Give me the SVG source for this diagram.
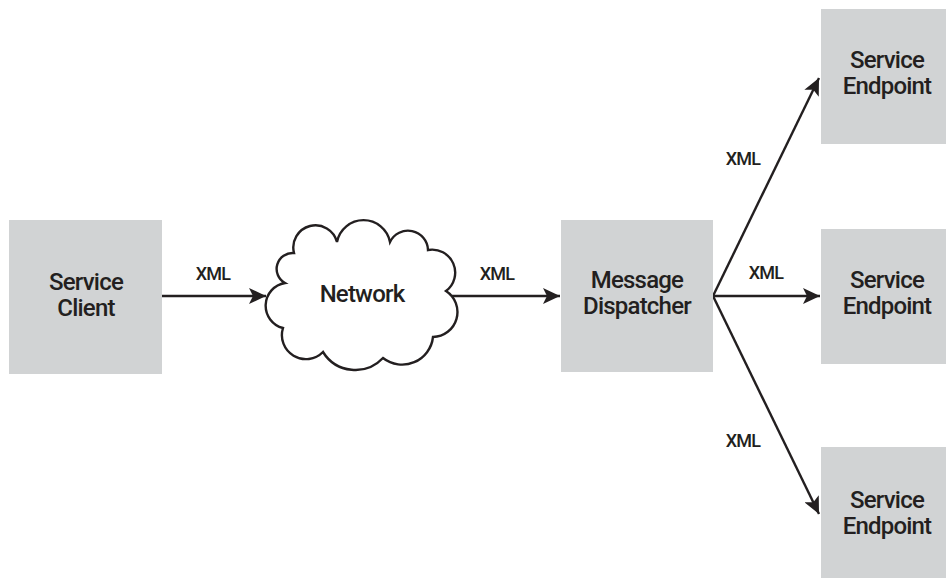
<svg xmlns="http://www.w3.org/2000/svg" width="946" height="578" viewBox="0 0 946 578">
<style>
.box{fill:#d1d3d4;stroke:none}
.lbl{font-family:Roboto,"Liberation Sans",sans-serif;font-weight:500;font-size:24px;fill:#231f20;text-anchor:middle;letter-spacing:-0.8px}
.xml{font-family:Roboto,"Liberation Sans",sans-serif;font-weight:500;font-size:18px;fill:#231f20;text-anchor:middle;letter-spacing:-0.8px}
.conn{stroke:#231f20;stroke-width:2.4;fill:none;marker-end:url(#ah)}
.cloud{fill:#fff;stroke:#231f20;stroke-width:2.4;stroke-linejoin:miter}
</style>
<defs>
<marker id="ah" markerWidth="18" markerHeight="16" refX="17" refY="8" orient="auto" markerUnits="userSpaceOnUse">
<path d="M0,0 L17,8 L0,16 L4,8 Z" fill="#231f20"/>
</marker>
</defs>
<rect width="946" height="578" fill="#fff"/>
<g id="connectors">
<line class="conn" x1="162" y1="296" x2="266" y2="296"/>
<line class="conn" x1="452" y1="296" x2="560" y2="296"/>
<line class="conn" x1="713" y1="296" x2="819" y2="78"/>
<line class="conn" x1="713" y1="296" x2="820" y2="296"/>
<line class="conn" x1="713" y1="296" x2="819" y2="514"/>
<text class="xml" x="213" y="280">XML</text>
<text class="xml" x="497" y="280">XML</text>
<text class="xml" x="743" y="165">XML</text>
<text class="xml" x="766" y="279">XML</text>
<text class="xml" x="743" y="447">XML</text>
</g>
<g id="service-client">
<rect class="box" x="9" y="220" width="153" height="154"/>
<text class="lbl" x="86" y="290">Service</text>
<text class="lbl" x="86" y="316">Client</text>
</g>
<g id="network">
<path class="cloud" d="M285,283 A16,16 0 0 1 294,253 A22,22 0 0 1 337,242 A27,27 0 0 1 390,242 A20,20 0 0 1 428,250 A23,23 0 0 1 446,291 A25,25 0 0 1 433,337 A31,31 0 0 1 383,358 A38,38 0 0 1 323,352 A24,24 0 0 1 283,328 A23,23 0 0 1 285,283 Z"/>
<text class="lbl" x="362" y="302">Network</text>
</g>
<g id="message-dispatcher">
<rect class="box" x="561" y="220" width="152" height="152"/>
<text class="lbl" x="637" y="288">Message</text>
<text class="lbl" x="637" y="314">Dispatcher</text>
</g>
<g id="endpoint-1">
<rect class="box" x="821" y="9" width="125" height="135"/>
<text class="lbl" x="887" y="68">Service</text>
<text class="lbl" x="887" y="94">Endpoint</text>
</g>
<g id="endpoint-2">
<rect class="box" x="821" y="229" width="125" height="135"/>
<text class="lbl" x="887" y="288">Service</text>
<text class="lbl" x="887" y="314">Endpoint</text>
</g>
<g id="endpoint-3">
<rect class="box" x="821" y="447" width="125" height="131"/>
<text class="lbl" x="887" y="508">Service</text>
<text class="lbl" x="887" y="534">Endpoint</text>
</g>
</svg>
